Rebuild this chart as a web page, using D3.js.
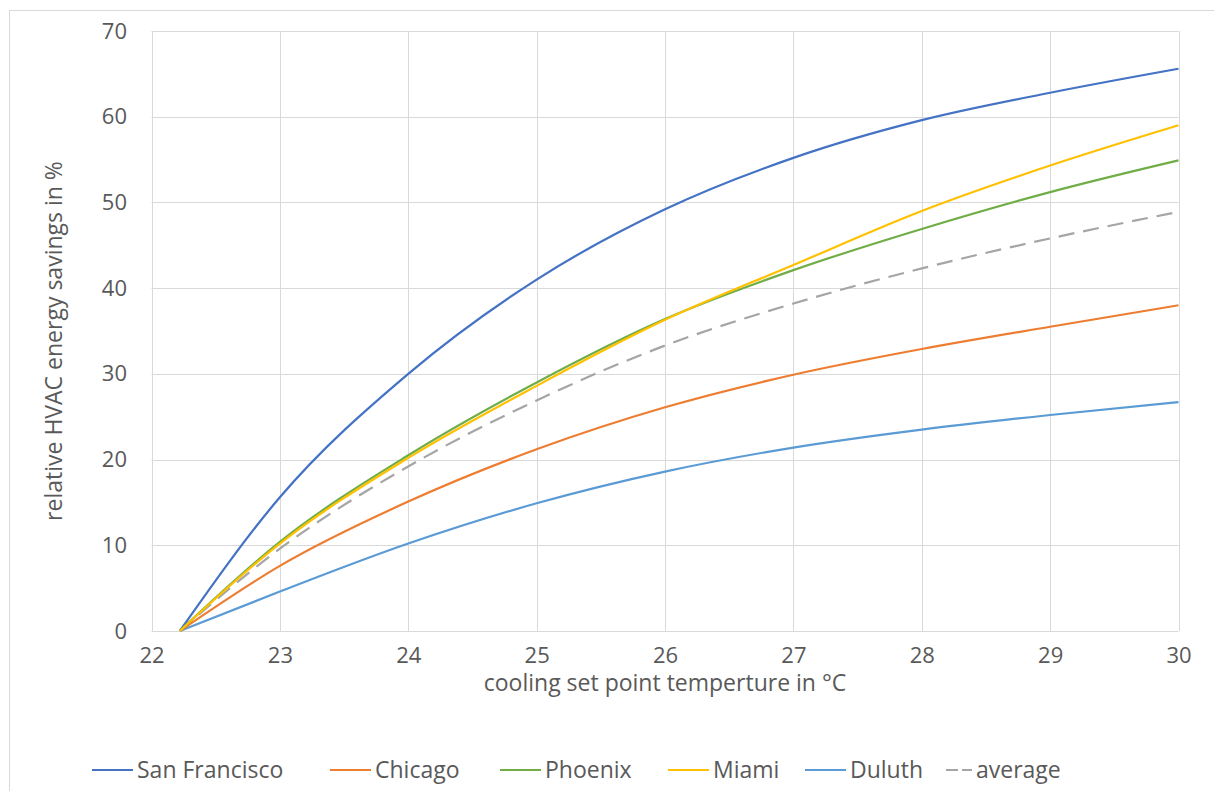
<!DOCTYPE html>
<html>
<head>
<meta charset="utf-8">
<script src="https://cdn.jsdelivr.net/npm/d3@7"></script>
<style>
  html, body { margin: 0; padding: 0; background: #fff; }
  svg { display: block; }
  text { font-family: "Open Sans", Lato, sans-serif; fill: #595959; }
</style>
</head>
<body>
<svg id="chart" width="1214" height="791"></svg>
<script>
// Cooling set point temperatures (°C); first point is 72 °F
const temps = [22.22, 23, 24, 25, 26, 27, 28, 29, 30];

// Relative HVAC energy savings (%) per city
const sanFrancisco = [0, 15.6, 30.0, 41.0, 49.2, 55.2, 59.6, 62.8, 65.6];
const chicago      = [0, 7.6, 15.1, 21.2, 26.1, 29.9, 32.9, 35.5, 38.0];
const phoenix      = [0, 10.4, 20.5, 29.0, 36.4, 42.1, 46.9, 51.2, 54.9];
const miami        = [0, 10.2, 20.2, 28.6, 36.3, 42.7, 49.0, 54.3, 59.0];
const duluth       = [0, 4.6, 10.2, 14.9, 18.6, 21.4, 23.5, 25.2, 26.7];
const average      = [0, 9.6, 19.2, 26.9, 33.3, 38.2, 42.3, 45.8, 48.9];

const seriesNames  = ["San Francisco", "Chicago", "Phoenix", "Miami", "Duluth", "average"];
const seriesValues = [sanFrancisco, chicago, phoenix, miami, duluth, average];
const seriesColors = ["#4472C4", "#ED7D31", "#70AD47", "#FFC000", "#5B9BD5", "#A5A5A5"];

const xTicks = [22, 23, 24, 25, 26, 27, 28, 29, 30];
const yTicks = [0, 10, 20, 30, 40, 50, 60, 70];

const xTitle = "cooling set point temperture in °C";
const yTitle = "relative HVAC energy savings in %";

const svg = d3.select("#chart");

// outer chart frame
svg.append("rect")
  .attr("x", 9.5).attr("y", 10.5)
  .attr("width", 1230).attr("height", 800)
  .attr("fill", "none").attr("stroke", "#d9d9d9");

const plot = { left: 151.5, right: 1178.5, top: 31, bottom: 631 };

const x = d3.scaleLinear().domain([22, 30]).range([plot.left, plot.right]);
const y = d3.scaleLinear().domain([0, 70]).range([plot.bottom, plot.top]);

// gridlines
const grid = svg.append("g").attr("stroke", "#d9d9d9").attr("stroke-width", 1);
grid.selectAll("line.h").data(yTicks).join("line")
  .attr("x1", plot.left).attr("x2", plot.right)
  .attr("y1", d => Math.round(y(d)) + 0.5).attr("y2", d => Math.round(y(d)) + 0.5);
grid.selectAll("line.v").data(xTicks).join("line")
  .attr("y1", plot.top).attr("y2", plot.bottom)
  .attr("x1", d => Math.round(x(d)) + 0.5).attr("x2", d => Math.round(x(d)) + 0.5);

// axes (labels only, lines come from the grid)
const xAxis = svg.append("g")
  .attr("transform", `translate(0,${plot.bottom + 10})`)
  .call(d3.axisBottom(x).tickValues(xTicks).tickSize(0).tickPadding(6).tickFormat(d3.format("d")));
const yAxis = svg.append("g")
  .attr("transform", `translate(127,0)`)
  .call(d3.axisLeft(y).tickValues(yTicks).tickSize(0).tickPadding(0).tickFormat(d3.format("d")));
[xAxis, yAxis].forEach(a => {
  a.select(".domain").remove();
  a.selectAll("text").attr("font-size", 22).attr("fill", "#595959")
    .attr("font-family", "'Open Sans', Lato, sans-serif");
});

// axis titles
svg.append("text")
  .attr("x", (plot.left + plot.right) / 2).attr("y", 691)
  .attr("text-anchor", "middle").attr("font-size", 23)
  .text(xTitle);
svg.append("text")
  .attr("transform", `translate(62,341) rotate(-90)`)
  .attr("text-anchor", "middle").attr("font-size", 23)
  .text(yTitle);

// series lines
const line = d3.line()
  .x((d, i) => x(temps[i]))
  .y(d => y(d))
  .curve(d3.curveMonotoneX);

const order = [5, 4, 1, 0, 2, 3];
svg.append("g").selectAll("path").data(order).join("path")
  .attr("d", i => line(seriesValues[i]))
  .attr("fill", "none")
  .attr("stroke", i => seriesColors[i])
  .attr("stroke-width", 2.2)
  .attr("stroke-dasharray", i => seriesNames[i] === "average" ? "16,9" : null)
  .attr("stroke-linecap", "butt");

// legend: swatch then label
const legendText = [137, 375, 545, 713, 850, 976];
const legend = svg.append("g").attr("transform", "translate(0,770)");
const items = legend.selectAll("g").data(seriesNames).join("g")
  .attr("transform", (d, i) => `translate(${legendText[i]},0)`);
items.append("line")
  .attr("x1", d => d === "average" ? -30 : -45).attr("x2", -4)
  .attr("y1", 0).attr("y2", 0)
  .attr("stroke", (d, i) => seriesColors[i])
  .attr("stroke-width", 2.2)
  .attr("stroke-dasharray", d => d === "average" ? "12,4" : null);
items.append("text")
  .attr("x", 0).attr("y", 0).attr("dy", "0.35em")
  .attr("font-size", 23)
  .text(d => d);
</script>
</body>
</html>
